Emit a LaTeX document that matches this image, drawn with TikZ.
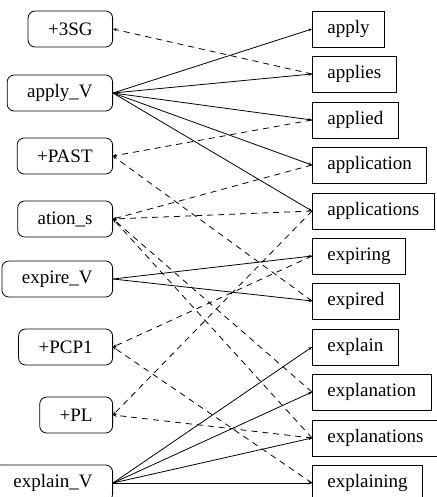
\documentclass[tikz,border=0pt]{standalone}
\usepackage{fontspec}
\setmainfont{Liberation Serif}
\usetikzlibrary{arrows.meta}

\begin{document}
\begin{tikzpicture}
  [x=0.5pt,y=-0.5pt,>={Stealth[length=1.8pt,width=1.5pt]},
   every node/.style={draw=black,minimum height=18pt,inner ysep=0pt,
     font=\fontsize{9.5}{11}\selectfont},
   morph/.style={rounded corners=3.5pt,inner xsep=10pt,anchor=east},
   word/.style={rectangle,inner xsep=7.5pt,anchor=west},
   seg/.style={dashed,dash pattern=on 3pt off 2.5pt}]
  \useasboundingbox (0,0) rectangle (436,497);
  % morphemes
  \node[morph] (m1) at (113,29)  {+3SG};
  \node[morph] (m2) at (113,93)  {apply\_V};
  \node[morph] (m3) at (113,156) {+PAST};
  \node[morph] (m4) at (113,219) {ation\_s};
  \node[morph] (m5) at (113,279) {expire\_V};
  \node[morph] (m6) at (113,347) {+PCP1};
  \node[morph] (m7) at (113,415) {+PL};
  \node[morph] (m8) at (113,483) {explain\_V};
  % words
  \node[word] (w1)  at (312,29)  {apply};
  \node[word] (w2)  at (312,74)  {applies};
  \node[word] (w3)  at (312,120) {applied};
  \node[word] (w4)  at (312,165) {application};
  \node[word] (w5)  at (312,211) {applications};
  \node[word] (w6)  at (312,256) {expiring};
  \node[word] (w7)  at (312,301) {expired};
  \node[word] (w8)  at (312,347) {explain};
  \node[word] (w9)  at (312,392) {explanation};
  \node[word] (w10) at (312,438) {explanations};
  \node[word] (w11) at (312,483) {explaining};

  % stems
  \foreach \w in {w1,w2,w3,w4,w5} \draw[->] (m2.east) -- (\w.west);
  \foreach \w in {w6,w7} \draw[->] (m5.east) -- (\w.west);
  \foreach \w in {w8,w9,w10,w11} \draw[->] (m8.east) -- (\w.west);

  % affixes
  \draw[seg,->] (w2.west) -- (m1.east);
  \draw[seg,->] (w3.west) -- (m3.east);
  \draw[seg,->] (w7.west) -- (m3.east);
  \draw[seg,->] (w4.west) -- (m4.east);
  \draw[seg,->] (w5.west) -- (m4.east);
  \draw[seg,->] (w9.west) -- (m4.east);
  \draw[seg,->] (w10.west) -- (m4.east);
  \draw[seg,->] (w6.west) -- (m6.east);
  \draw[seg,->] (w11.west) -- (m6.east);
  \draw[seg,->] (w5.west) -- (m7.east);
  \draw[seg,->] (w10.west) -- (m7.east);
\end{tikzpicture}
\end{document}
